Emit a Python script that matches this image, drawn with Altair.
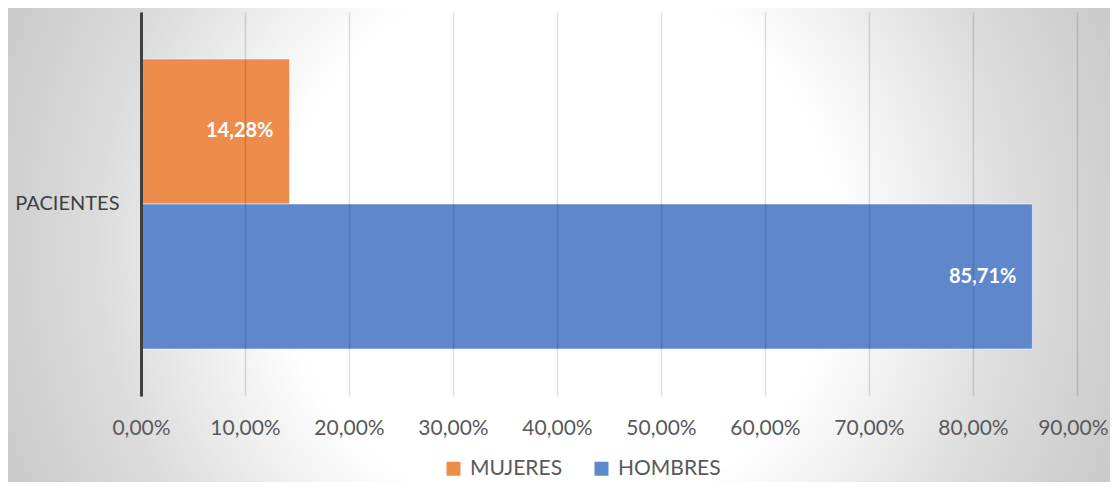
import altair as alt
import pandas as pd

categoria = "PACIENTES"
series = ["MUJERES", "HOMBRES"]
valores = [0.1428, 0.8571]
colores = ["#EE8C4C", "#5E87CC"]
ticks_x = [0, 0.1, 0.2, 0.3, 0.4, 0.5, 0.6, 0.7, 0.8, 0.9]

df = pd.DataFrame({"categoria": [categoria] * len(series), "serie": series, "valor": valores})

W, H = 936, 384
FONT = "Lato"
fmt = "replace(format(datum.value, '.2%'), '.', ',')"

bg = alt.Chart(pd.DataFrame({"a": [0]})).mark_rect(
    fill={
        "gradient": "radial",
        "x1": 0.5, "y1": 0.5, "r1": 0,
        "x2": 0.5, "y2": 0.5, "r2": 0.55,
        "stops": [
            {"offset": 0, "color": "#ffffff"},
            {"offset": 0.45, "color": "#ffffff"},
            {"offset": 0.75, "color": "#dcdcdc"},
            {"offset": 1, "color": "#c8c8c8"},
        ],
    }
).encode(
    x=alt.value(-141), x2=alt.value(977), y=alt.value(-326), y2=alt.value(792)
)

base = alt.Chart(df).encode(
    x=alt.X(
        "valor:Q",
        scale=alt.Scale(domain=[0, 0.9], nice=False),
        axis=alt.Axis(
            values=ticks_x, labelExpr=fmt, title=None, domain=False, ticks=False,
            grid=True, gridColor="black", gridOpacity=0.13, gridWidth=1.5,
            labelPadding=21, zindex=1, labelFontSize=21, labelColor="#595959",
            labelFont=FONT, labelFlush=False, labelOverlap=False, labelBound=False,
            labelAlign={"condition": {"test": "datum.value > 0.85", "value": "right"}, "value": "center"},
            labelOffset={"condition": {"test": "datum.value > 0.85", "value": 31}, "value": 0},
        ),
    ),
    y=alt.Y(
        "categoria:N",
        scale=alt.Scale(paddingInner=0, paddingOuter=0.162),
        axis=alt.Axis(
            title=None, ticks=False, grid=False, domainColor="#404040", domainWidth=3,
            labelPadding=22, labelFontSize=20, labelColor="#404040", labelFont=FONT,
            zindex=1,
        ),
    ),
    yOffset=alt.YOffset("serie:N", sort=series, scale=alt.Scale(paddingInner=0, paddingOuter=0)),
)

bars = base.mark_bar(stroke="white", strokeOpacity=0.5, strokeWidth=1).encode(
    color=alt.Color(
        "serie:N",
        sort=series,
        scale=alt.Scale(domain=series, range=colores),
        legend=alt.Legend(
            title=None, orient="none", legendX=298, legendY=442, direction="horizontal",
            symbolType="square", symbolSize=196, symbolStrokeWidth=0, symbolOpacity=1,
            labelFontSize=21, labelFont=FONT, labelColor="#595959",
            columnPadding=28, labelOffset=6, padding=4,
            fillColor="rgba(255,255,255,0.45)", zindex=1,
        ),
    )
)

labels = base.transform_calculate(
    etiqueta="replace(format(datum.valor, '.2%'), '.', ',')"
).mark_text(
    align="right", baseline="middle", dx=-16, color="white", fontWeight="bold",
    fontSize=20, font=FONT,
).encode(text="etiqueta:N")

chart = alt.layer(bg, bars, labels).properties(
    width=W, height=H,
    autosize=alt.AutoSizeParams(type="none"),
    padding={"left": 133, "top": 4, "right": 33, "bottom": 86},
    background="white",
).configure_view(stroke=None)

chart.save("out.html", embed_options={"renderer": "svg", "actions": False})
